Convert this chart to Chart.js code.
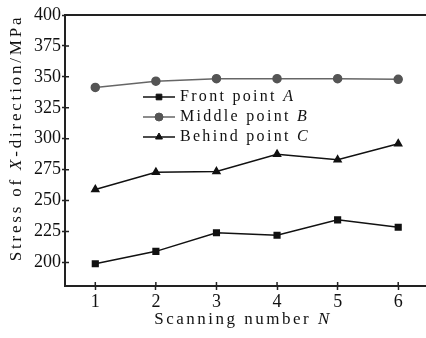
<!DOCTYPE html>
<html lang="en">
<head>
    <meta charset="UTF-8">
    <title>Stress of X-direction vs scanning number</title>
    <style>
        body { margin: 0; background: #fff; overflow: hidden; }
        /* canvas is a bit wider than the window so the plot runs to the right edge */
        #wrap { width: 426px; height: 338px; position: relative; overflow: hidden; }
    </style>
</head>
<body>
    <div id="wrap"><canvas id="stressChart" width="434" height="338"></canvas></div>

    <script src="https://cdn.jsdelivr.net/npm/chart.js"></script>
    <script>
        // scan numbers on the x axis
        const scanNumbers = [1, 2, 3, 4, 5, 6];
        // stress values (MPa)
        const frontA = [199, 209, 224, 222, 234.5, 228.5];
        const middleB = [341.5, 346.5, 348.5, 348.5, 348.5, 348];
        const behindC = [259, 273, 273.5, 287.5, 283, 296];
        const yTicks = [200, 225, 250, 275, 300, 325, 350, 375, 400];

        const serif = '"Liberation Serif", "Times New Roman", serif';

        function toPoints(values) {
            return scanNumbers.map((n, i) => ({ x: n, y: values[i] }));
        }

        // draws one line of text with some parts in italic, centred on x
        function drawMixed(ctx, parts, x, y, size) {
            let total = 0;
            parts.forEach(p => {
                ctx.font = (p.italic ? 'italic ' : '') + size + 'px ' + serif;
                total += ctx.measureText(p.text).width;
            });
            let cx = x - total / 2;
            parts.forEach(p => {
                ctx.font = (p.italic ? 'italic ' : '') + size + 'px ' + serif;
                ctx.fillText(p.text, cx, y);
                cx += ctx.measureText(p.text).width;
            });
        }

        // axis titles, legend, frame and inner tick marks drawn by hand
        const annotations = {
            id: 'annotations',
            afterDraw(chart) {
                const ctx = chart.ctx;
                const area = chart.chartArea;
                const xs = chart.scales.x;
                const ys = chart.scales.y;
                ctx.save();

                // top frame line
                ctx.strokeStyle = '#222';
                ctx.lineWidth = 2;
                ctx.beginPath();
                ctx.moveTo(area.left, area.top);
                ctx.lineTo(area.right, area.top);
                ctx.stroke();

                // short tick marks on the inner side of the axes
                ctx.lineWidth = 1.5;
                ctx.beginPath();
                scanNumbers.forEach(v => {
                    const px = xs.getPixelForValue(v);
                    ctx.moveTo(px, area.bottom);
                    ctx.lineTo(px, area.bottom - 4);
                });
                yTicks.forEach(v => {
                    const py = ys.getPixelForValue(v);
                    ctx.moveTo(area.left, py);
                    ctx.lineTo(area.left + 4, py);
                });
                ctx.stroke();

                ctx.fillStyle = '#111';
                ctx.textBaseline = 'middle';
                ctx.textAlign = 'left';

                // x title
                ctx.letterSpacing = '2.5px';
                drawMixed(ctx, [{ text: 'Scanning number ' }, { text: 'N', italic: true }],
                    243, 320, 17);

                // y title, rotated
                ctx.save();
                ctx.letterSpacing = '2.8px';
                ctx.translate(17, 138);
                ctx.rotate(-Math.PI / 2);
                drawMixed(ctx, [{ text: 'Stress of ' }, { text: 'X', italic: true }, { text: '-direction/MPa' }],
                    0, 0, 17);
                ctx.restore();

                // legend
                ctx.letterSpacing = '2.3px';
                const rows = [
                    { ds: chart.data.datasets[0], label: 'Front point ', tag: 'A', y: 97 },
                    { ds: chart.data.datasets[1], label: 'Middle point ', tag: 'B', y: 117 },
                    { ds: chart.data.datasets[2], label: 'Behind point ', tag: 'C', y: 137 }
                ];
                rows.forEach(r => {
                    ctx.strokeStyle = r.ds.borderColor;
                    ctx.lineWidth = 1.5;
                    ctx.beginPath();
                    ctx.moveTo(143, r.y);
                    ctx.lineTo(175, r.y);
                    ctx.stroke();
                    ctx.fillStyle = r.ds.pointBackgroundColor;
                    ctx.strokeStyle = r.ds.pointBorderColor;
                    ctx.lineWidth = 1;
                    Chart.helpers.drawPoint(ctx, {
                        pointStyle: r.ds.pointStyle,
                        radius: r.ds.pointRadius,
                        rotation: 0,
                        borderWidth: 1
                    }, 159, r.y);
                    ctx.fillStyle = '#111';
                    ctx.font = '16px ' + serif;
                    ctx.fillText(r.label, 180, r.y);
                    const w = ctx.measureText(r.label).width;
                    ctx.font = 'italic 16px ' + serif;
                    ctx.fillText(r.tag, 180 + w, r.y);
                });
                ctx.restore();
            }
        };

        const ctx = document.getElementById('stressChart').getContext('2d');
        new Chart(ctx, {
            type: 'line',
            data: {
                datasets: [{
                    label: 'Front point A',
                    data: toPoints(frontA),
                    borderColor: '#111',
                    backgroundColor: '#111',
                    pointBackgroundColor: '#111',
                    pointBorderColor: '#111',
                    pointStyle: 'rect',
                    pointRadius: 4,
                    borderWidth: 1.5
                }, {
                    label: 'Middle point B',
                    data: toPoints(middleB),
                    borderColor: '#666',
                    backgroundColor: '#555',
                    pointBackgroundColor: '#555',
                    pointBorderColor: '#555',
                    pointStyle: 'circle',
                    pointRadius: 4,
                    borderWidth: 1.5
                }, {
                    label: 'Behind point C',
                    data: toPoints(behindC),
                    borderColor: '#111',
                    backgroundColor: '#111',
                    pointBackgroundColor: '#111',
                    pointBorderColor: '#111',
                    pointStyle: 'triangle',
                    pointRadius: 4,
                    borderWidth: 1.5
                }]
            },
            options: {
                responsive: false,
                animation: false,
                layout: { padding: { top: 15, right: 0, left: 0, bottom: 0 } },
                plugins: { legend: { display: false }, tooltip: { enabled: false } },
                scales: {
                    x: {
                        type: 'linear',
                        min: 0.5,
                        max: 6.5,
                        afterBuildTicks: s => { s.ticks = scanNumbers.map(v => ({ value: v })); },
                        afterFit: s => { s.height = 52; },
                        grid: {
                            drawOnChartArea: false,
                            tickLength: 4,
                            tickWidth: 1.5,
                            color: '#222'
                        },
                        border: { color: '#222', width: 2 },
                        ticks: {
                            color: '#111',
                            padding: 1,
                            font: { family: serif, size: 18 }
                        }
                    },
                    y: {
                        min: 181,
                        max: 400,
                        afterBuildTicks: s => { s.ticks = yTicks.map(v => ({ value: v })); },
                        afterFit: s => { s.width = 65; },
                        grid: {
                            drawOnChartArea: false,
                            tickLength: 3,
                            tickWidth: 1.5,
                            color: '#222'
                        },
                        border: { color: '#222', width: 2 },
                        ticks: {
                            color: '#111',
                            padding: 1,
                            font: { family: serif, size: 18 }
                        }
                    }
                }
            },
            plugins: [annotations]
        });
    </script>
</body>
</html>
